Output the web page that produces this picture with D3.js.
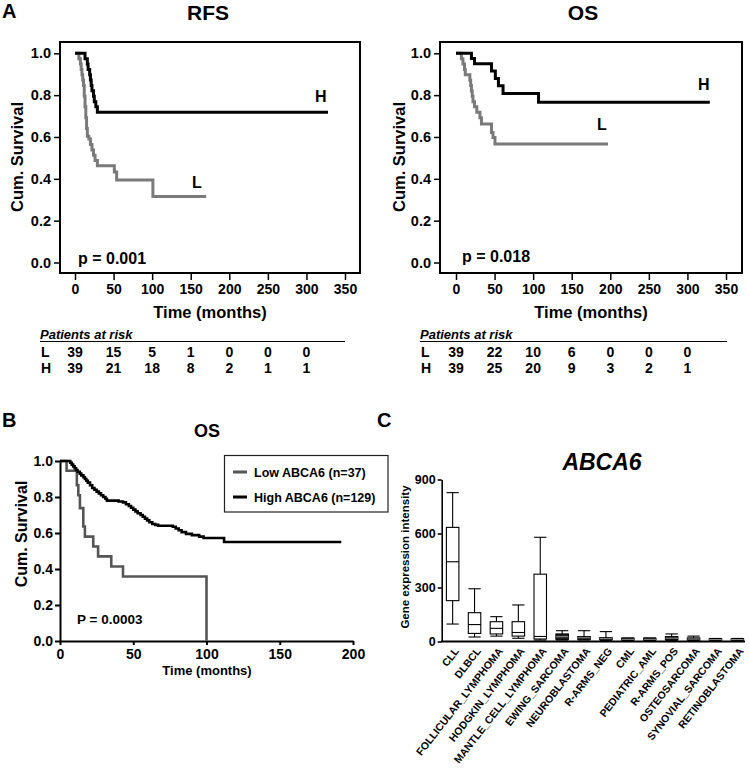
<!DOCTYPE html>
<html><head><meta charset="utf-8">
<script src="https://cdn.jsdelivr.net/npm/d3@7"></script>
<style>body{margin:0;background:#fff}svg{display:block}text{font-family:"Liberation Sans",Arial,sans-serif;font-weight:bold;fill:#000}</style>
</head><body><svg id="c" width="749" height="776"></svg>
<script>
// ---------- DATA ----------
const kmTicksX = [0,50,100,150,200,250,300,350];
const kmTicksY = [0,0.2,0.4,0.6,0.8,1.0];
const riskTimes = [0,50,100,150,200,250,300];

const rfsLow = [[0,1],[5,0.974],[7,0.949],[8,0.923],[9,0.897],[10,0.872],[11,0.846],[12,0.795],[13,0.744],[14,0.692],[15,0.641],[16,0.603],[18,0.59],[20,0.564],[22,0.538],[24,0.513],[26,0.487],[29,0.462],[51,0.433],[54,0.394],[101,0.315],[170,0.315]];
const rfsHigh = [[0,1],[13,0.974],[16,0.949],[17,0.923],[19,0.897],[20,0.872],[21,0.846],[22,0.821],[24,0.795],[25,0.769],[27,0.744],[29,0.718],[328,0.718]];
const osLow = [[0,1],[7,0.974],[9,0.949],[11,0.923],[12,0.897],[18,0.871],[19,0.846],[20,0.82],[21,0.795],[22,0.769],[24,0.744],[27,0.718],[31,0.692],[33,0.662],[46,0.622],[48,0.598],[50.5,0.566],[197,0.566]];
const osHigh = [[0,1],[20,0.975],[24,0.95],[46,0.915],[51,0.88],[55,0.845],[61,0.808],[107,0.766],[329,0.766]];

const rfsRiskL = [39,15,5,1,0,0,0];
const rfsRiskH = [39,21,18,8,2,1,1];
const osRiskL = [39,22,10,6,0,0,0];
const osRiskH = [39,25,20,9,3,2,1];

const bTicksX = [0,50,100,150,200];
const bTicksY = [0,0.2,0.4,0.6,0.8,1.0];
const bLow = [[0,1],[4.5,0.946],[11.5,0.865],[12.5,0.81],[13.6,0.738],[15.9,0.636],[17,0.58],[22.7,0.525],[26,0.47],[35,0.414],[43,0.358],[100,0]];
const bHigh = [[0,1],[7,0.99],[8,0.98],[9,0.97],[10,0.96],[11,0.95],[12,0.94],[13.5,0.93],[14.5,0.92],[16,0.91],[17,0.9],[18,0.89],[19,0.88],[20.5,0.865],[22,0.85],[23.5,0.84],[25,0.83],[26.5,0.82],[28,0.81],[29.5,0.8],[31,0.79],[32,0.78],[40,0.775],[43,0.77],[45,0.76],[47,0.75],[48.5,0.74],[50,0.73],[51.5,0.72],[53,0.71],[55,0.7],[56.5,0.69],[58,0.68],[59.5,0.67],[61,0.66],[63,0.65],[65,0.645],[67,0.64],[77,0.635],[79,0.625],[81,0.615],[83,0.605],[86,0.595],[90,0.588],[95,0.58],[98,0.572],[112,0.55],[192,0.55]];
const bLegend = ["Low ABCA6 (n=37)","High ABCA6 (n=129)"];

const cCategories = ["CLL","DLBCL","FOLLICULAR_LYMPHOMA","HODGKIN_LYMPHOMA","MANTLE_CELL_LYMPHOMA","EWING_SARCOMA","NEUROBLASTOMA","R-ARMS_NEG","CML","PEDIATRIC_AML","R-ARMS_POS","OSTEOSARCOMA","SYNOVIAL_SARCOMA","RETINOBLASTOMA"];
const cWhiskLow = [97,25,30,18,8,8,8,6,5,5,6,5,5,5];
const cQ1 =       [227,45,42,30,14,12,12,10,8,8,10,8,8,8];
const cMedian =   [443,94,73,50,28,27,21,16,12,12,18,14,11,11];
const cQ3 =       [634,160,110,110,374,42,27,21,18,18,27,20,15,15];
const cWhiskHigh= [827,293,138,203,579,60,60,55,20,20,42,30,17,17];
const cTicksY = [0,300,600,900];

// ---------- DRAW ----------
const svg = d3.select('#c');
svg.append('rect').attr('width',749).attr('height',776).attr('fill','#fff');
const FONT = '"Liberation Sans",Arial,sans-serif';
function styleAxis(ax,size,sw){
  ax.attr('font-size',size).attr('font-family',FONT).attr('font-weight','bold');
  ax.selectAll('line').attr('stroke','#000').attr('stroke-width',sw);
  ax.selectAll('path').attr('stroke','#000').attr('stroke-width',sw);
  ax.selectAll('text').attr('fill','#000');
}
function txt(x,y,s,size,opts={}){
  const t = svg.append('text').attr('x',x).attr('y',y).attr('font-size',size).text(s);
  if(opts.anchor) t.attr('text-anchor',opts.anchor);
  if(opts.italic) t.attr('font-style','italic');
  if(opts.rot) t.attr('transform',`rotate(-90,${x},${y})`);
  return t;
}

// Panel A
const yA = d3.scaleLinear().domain([0,1]).range([262.5,53.3]);
function drawKM(o){
  const x = d3.scaleLinear().domain([0,350]).range(o.xr);
  const ax = svg.append('g').attr('transform',`translate(${o.b[0]},0)`)
    .call(d3.axisLeft(yA).tickValues(kmTicksY).tickFormat(d3.format('.1f')).tickSize(6).tickPadding(3));
  ax.select('.domain').remove(); styleAxis(ax,14.5,1.5);
  const bx = svg.append('g').attr('transform',`translate(0,${o.b[3]})`)
    .call(d3.axisBottom(x).tickValues(kmTicksX).tickSize(7).tickPadding(4));
  bx.select('.domain').remove(); styleAxis(bx,14,1.5);
  svg.append('rect').attr('x',o.b[0]).attr('y',o.b[1]).attr('width',o.b[2]-o.b[0]).attr('height',o.b[3]-o.b[1])
    .attr('fill','none').attr('stroke','#000').attr('stroke-width',2);
  const line = d3.line().x(d=>x(d[0])).y(d=>yA(d[1])).curve(d3.curveStepAfter);
  svg.append('path').attr('d',line(o.low)).attr('fill','none').attr('stroke','#7a7a7a').attr('stroke-width',3);
  svg.append('path').attr('d',line(o.high)).attr('fill','none').attr('stroke','#000').attr('stroke-width',3);
  txt(o.title[0],20,o.titleText,21,{anchor:'middle'});
  txt(o.ylab,157,'Cum. Survival',16.5,{anchor:'middle',rot:true});
  txt(o.xlab,318,'Time (months)',16.5,{anchor:'middle'});
  txt(o.p[0],o.p[1],o.pText,16);
  txt(o.H[0],o.H[1],'H',16);
  txt(o.L[0],o.L[1],'L',16);
  txt(o.risk[0],339,'Patients at risk',13,{italic:true});
  svg.append('line').attr('x1',o.risk[0]).attr('x2',o.risk[1]).attr('y1',341.5).attr('y2',341.5).attr('stroke','#000').attr('stroke-width',1.2);
  txt(o.risk[0]+1,357,'L',14);
  txt(o.risk[0]+1,373,'H',14);
  riskTimes.forEach((t,i)=>{
    txt(x(t),357,o.rL[i],14,{anchor:'middle'});
    txt(x(t),373,o.rH[i],14,{anchor:'middle'});
  });
}
txt(2,18,'A',20);
drawKM({xr:[75,345],b:[60,42,360,273],low:rfsLow,high:rfsHigh,title:[208],titleText:'RFS',ylab:23,xlab:210,p:[78,264],pText:'p = 0.001',H:[315,102],L:[192,188],risk:[40,345],rL:rfsRiskL,rH:rfsRiskH});
drawKM({xr:[456,726],b:[440,42,742,273],low:osLow,high:osHigh,title:[583],titleText:'OS',ylab:405,xlab:591,p:[462,262],pText:'p = 0.018',H:[698,90],L:[597,130],risk:[420,727],rL:osRiskL,rH:osRiskH});

// Panel B
txt(2,427,'B',20);
txt(207,437,'OS',18,{anchor:'middle'});
const xB = d3.scaleLinear().domain([0,200]).range([60,353]);
const yB = d3.scaleLinear().domain([0,1]).range([641,461]);
const bya = svg.append('g').attr('transform','translate(60,0)')
  .call(d3.axisLeft(yB).tickValues(bTicksY).tickFormat(d3.format('.1f')).tickSize(5).tickSizeOuter(0).tickPadding(2));
styleAxis(bya,14,2);
const bxa = svg.append('g').attr('transform','translate(0,641)')
  .call(d3.axisBottom(xB).tickValues(bTicksX).tickSize(4).tickSizeOuter(0).tickPadding(4));
styleAxis(bxa,14,2);
const lineB = d3.line().x(d=>xB(d[0])).y(d=>yB(d[1])).curve(d3.curveStepAfter);
svg.append('path').attr('d',lineB(bLow)).attr('fill','none').attr('stroke','#555').attr('stroke-width',2.6);
svg.append('path').attr('d',lineB(bHigh)).attr('fill','none').attr('stroke','#000').attr('stroke-width',2.6);
txt(207,675,'Time (months)',13,{anchor:'middle'});
txt(27,534,'Cum. Survival',16,{anchor:'middle',rot:true});
txt(77,624,'P = 0.0003',13.5);
svg.append('rect').attr('x',224.5).attr('y',455.5).attr('width',163.5).attr('height',56.5).attr('fill','#fff').attr('stroke','#222').attr('stroke-width',1.2);
const legCol = ['#555','#000'];
bLegend.forEach((s,i)=>{
  const yy = 472 + i*25;
  svg.append('line').attr('x1',233).attr('x2',247).attr('y1',yy).attr('y2',yy).attr('stroke',legCol[i]).attr('stroke-width',3);
  txt(254,yy+5,s,12.5);
});

// Panel C
txt(377,427,'C',20);
txt(602,470,'ABCA6',23,{anchor:'middle',italic:true});
const xC = d3.scaleBand().domain(cCategories).range([441.7,748.3]);
const yC = d3.scaleLinear().domain([0,900]).range([641.5,479.5]);
const cya = svg.append('g').attr('transform','translate(441.7,0)')
  .call(d3.axisLeft(yC).tickValues(cTicksY).tickSize(4).tickSizeOuter(0).tickPadding(2));
styleAxis(cya,12.5,1.6);
svg.append('line').attr('x1',441).attr('x2',745).attr('y1',641.5).attr('y2',641.5).attr('stroke','#000').attr('stroke-width',1.8);
txt(409,557,'Gene expression intensity',11.5,{anchor:'middle',rot:true});
const bw = xC.bandwidth()*0.57, cap = xC.bandwidth()*0.28;
cCategories.forEach((c,i)=>{
  const cx = xC(c)+xC.bandwidth()/2;
  const dark = i>=5;
  const g = svg.append('g').attr('stroke','#000').attr('stroke-width',1.1);
  g.append('line').attr('x1',cx).attr('x2',cx).attr('y1',yC(cWhiskHigh[i])).attr('y2',yC(cQ3[i]));
  g.append('line').attr('x1',cx).attr('x2',cx).attr('y1',yC(cWhiskLow[i])).attr('y2',yC(cQ1[i]));
  g.append('line').attr('x1',cx-cap).attr('x2',cx+cap).attr('y1',yC(cWhiskHigh[i])).attr('y2',yC(cWhiskHigh[i]));
  g.append('line').attr('x1',cx-cap).attr('x2',cx+cap).attr('y1',yC(cWhiskLow[i])).attr('y2',yC(cWhiskLow[i]));
  g.append('rect').attr('x',cx-bw/2).attr('width',bw).attr('y',yC(cQ3[i])).attr('height',yC(cQ1[i])-yC(cQ3[i]))
    .attr('fill',dark?'#222':'#fff');
  g.append('line').attr('x1',cx-bw/2).attr('x2',cx+bw/2).attr('y1',yC(cMedian[i])).attr('y2',yC(cMedian[i]))
    .attr('stroke',dark?'#888':'#000');
  svg.append('text').attr('font-size',10.5).attr('text-anchor','end')
    .attr('transform',`translate(${cx+4},${649}) rotate(-52)`).attr('dy','0.35em').text(c);
});
</script></body></html>
